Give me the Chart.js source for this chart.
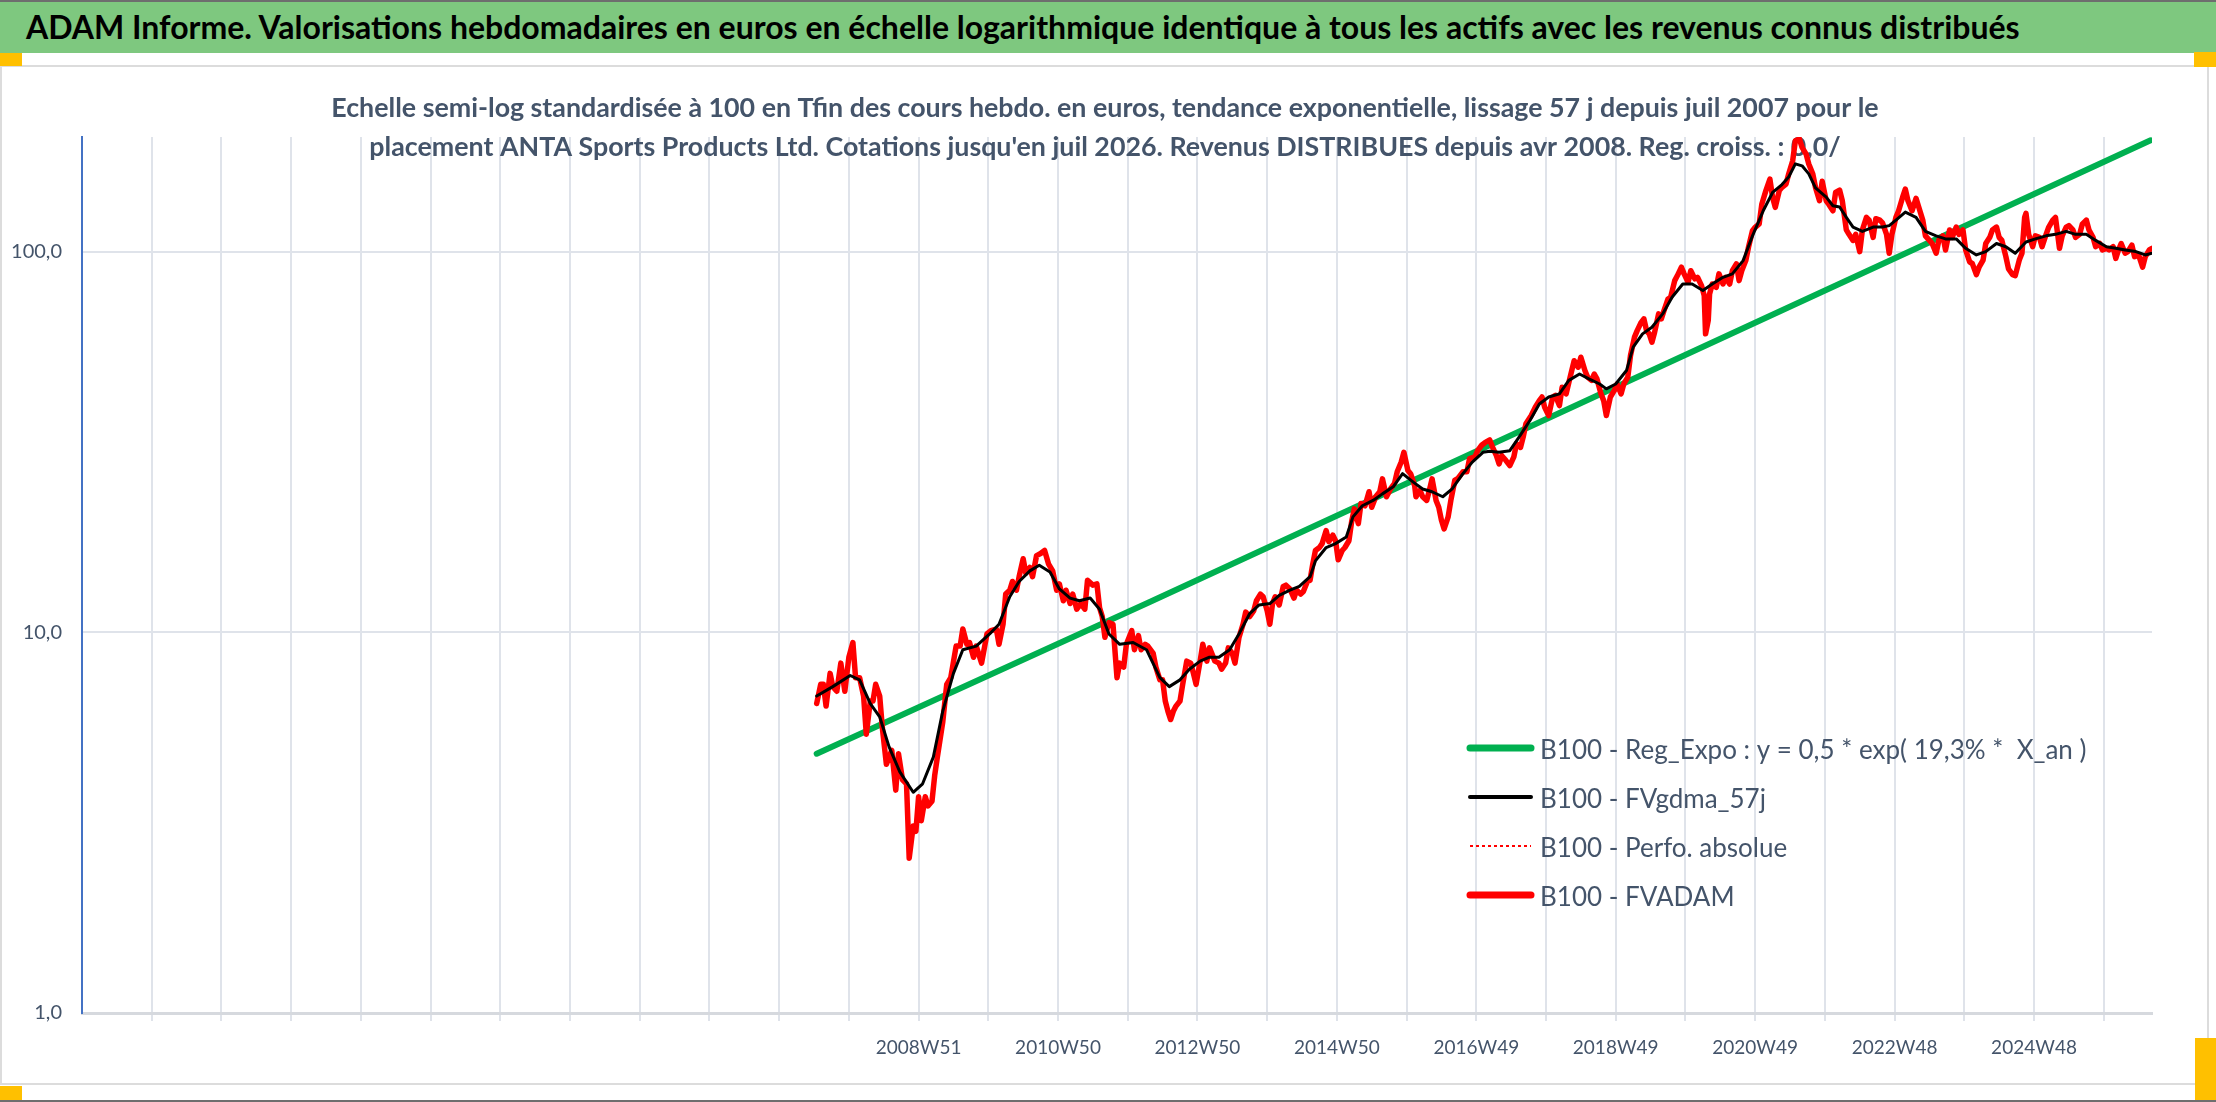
<!DOCTYPE html>
<html lang="fr">
<head>
<meta charset="utf-8">
<title>ADAM Informe - ANTA Sports Products Ltd.</title>
<script src="https://cdn.jsdelivr.net/npm/chart.js@4.4.1/dist/chart.umd.min.js"></script>
<style>
  html, body { margin: 0; padding: 0; background: #ffffff; overflow: hidden; }
  #page { position: relative; width: 2216px; height: 1102px; }
  #graphique { position: absolute; left: 0; top: 0; }
  #bandeau {
    position: absolute; left: 0; top: 0; width: 2216px; height: 53px;
    background: #7ec87f; border-top: 2px solid #6e6e6e;
    font: bold 32px Lato, "Liberation Sans", sans-serif; color: #000;
    line-height: 49px; padding-left: 26px; box-sizing: border-box; white-space: nowrap;
  }
  #cadre {
    position: absolute; left: 0; top: 65px; width: 2209px; height: 1020px;
    border: 2px solid #dcdcdc; box-sizing: border-box; pointer-events: none;
  }
  .poignee { position: absolute; background: #ffc000; }
  #basPage { position: absolute; left: 0; top: 1100px; width: 2216px; height: 2px; background: #6e6e6e; }
</style>
</head>
<body>
<div id="page">
  <canvas id="graphique" width="2216" height="1102"></canvas>
  <div id="cadre"></div>
  <div id="bandeau">ADAM Informe. Valorisations hebdomadaires en euros en échelle logarithmique identique à tous les actifs avec les revenus connus distribués</div>
  <div class="poignee" style="left:0;top:53px;width:22px;height:13px"></div>
  <div class="poignee" style="left:2194px;top:52px;width:22px;height:15px"></div>
  <div class="poignee" style="left:0;top:1086px;width:22px;height:14px"></div>
  <div class="poignee" style="left:2195px;top:1038px;width:21px;height:62px"></div>
  <div id="basPage"></div>
</div>
<script>
// Axe des x : index de semaine sur l'axe des catégories (graduation toutes les 52 semaines)
const finAxe = 1544;
const pasGraduation = 52;
const positionsEtiquettes = [624, 728, 832, 936, 1040, 1144, 1248, 1352, 1456];
const etiquettesX = ['2008W51', '2010W50', '2012W50', '2014W50', '2016W49', '2018W49', '2020W49', '2022W48', '2024W48'];
const valeursY = [1, 10, 100];

const titre1 = "Echelle semi-log standardisée à 100 en Tfin des cours hebdo. en euros, tendance exponentielle, lissage 57 j depuis juil 2007 pour le";
const titre2 = "placement ANTA Sports Products Ltd. Cotations jusqu'en juil 2026. Revenus DISTRIBUES depuis avr 2008. Reg. croiss. : 0,0/";

// [semaine, valeur base 100]
const regExpo = [[548, 4.8], [796, 12.0], [1543, 196]];

const fvGdma = [
  [548,6.8],[560,7.2],[573,7.7],[580,7.5],[588,6.5],[595,6.0],[602,5.0],[610,4.3],[620,3.8],[627,4.0],
  [635,4.7],[642,6.2],[650,7.8],[657,9.0],[667,9.2],[677,9.9],[684,10.5],[692,12.4],[699,13.6],[707,14.5],
  [714,15.0],[722,14.4],[729,13.0],[737,12.3],[744,12.1],[752,12.3],[759,11.5],[766,9.9],[774,9.3],[784,9.4],
  [794,9.0],[804,7.6],[811,7.2],[819,7.5],[826,8.0],[834,8.4],[841,8.6],[848,8.6],[856,9.0],[863,9.9],
  [871,11.2],[878,11.8],[886,11.9],[893,12.5],[901,12.9],[908,13.2],[916,14.0],[920,15.4],[928,16.7],[935,17.1],
  [943,17.8],[948,20.1],[955,21.5],[963,22.2],[970,23.1],[978,24.1],[985,26.1],[993,24.8],[1000,23.8],[1007,23.4],
  [1015,22.7],[1022,23.8],[1030,26.1],[1037,28.0],[1045,29.7],[1050,29.9],[1057,29.7],[1065,30.0],[1072,32.6],[1080,36.0],
  [1087,39.8],[1094,41.5],[1102,42.3],[1109,45.9],[1117,47.7],[1124,46.3],[1132,44.9],[1137,43.6],[1144,44.9],[1152,48.7],
  [1157,56.1],[1164,60.8],[1171,63.3],[1179,68.6],[1186,75.9],[1194,82.2],[1201,82.2],[1209,79.0],[1216,82.2],[1224,85.6],
  [1231,87.4],[1239,94.7],[1246,110],[1254,128],[1261,143],[1268,150],[1273,157],[1278,170],[1283,168],[1288,160],
  [1293,147],[1301,139],[1306,132],[1311,131],[1316,123],[1321,116],[1328,113],[1336,116],[1343,116],[1348,117],
  [1353,121],[1360,127],[1368,123],[1375,113],[1383,110],[1390,108],[1398,108],[1405,102],[1413,98],[1420,100],
  [1428,105],[1435,103],[1442,99],[1450,106],[1457,108],[1465,110],[1472,111],[1480,113],[1487,111],[1495,111],
  [1502,107],[1510,103],[1517,102],[1524,101],[1532,100],[1539,98],[1544,99]
];

const fvAdam = [
  [548,6.5],[551,7.3],[553,7.3],[555,6.4],[558,7.8],[560,7.2],[563,7.0],[566,8.3],[569,7.0],[572,8.6],
  [575,9.4],[577,7.6],[580,7.6],[583,6.8],[585,5.4],[588,6.6],[590,6.6],[592,7.3],[595,6.8],[597,5.6],
  [600,4.5],[604,4.9],[607,3.85],[609,4.8],[612,4.1],[615,4.0],[617,2.55],[620,3.1],[622,3.0],[624,3.7],
  [626,3.2],[629,3.7],[631,3.5],[634,3.6],[636,4.2],[638,4.7],[642,5.8],[645,7.3],[648,7.6],[652,9.2],
  [655,9.2],[657,10.2],[660,9.3],[662,9.4],[665,8.6],[667,9.2],[671,8.3],[675,9.9],[678,10.1],[682,10.2],
  [684,9.3],[687,10.5],[689,12.6],[692,12.9],[694,13.6],[697,12.9],[699,14.0],[702,15.6],[704,14.3],[707,14.8],
  [709,14.0],[712,15.9],[715,16.1],[718,16.4],[721,15.1],[724,14.5],[727,12.9],[729,13.4],[732,12.1],[734,12.9],
  [737,11.9],[739,12.6],[742,11.5],[745,11.9],[748,11.5],[750,13.7],[754,13.3],[757,13.4],[759,11.6],[761,11.0],
  [763,9.7],[766,10.6],[769,10.5],[772,7.6],[774,8.3],[777,8.1],[779,9.3],[783,10.1],[785,9.0],[788,9.8],
  [790,9.0],[793,9.3],[795,9.2],[799,8.8],
  [801,8.1],[804,7.5],[806,7.5],[808,6.6],[810,6.2],[812,5.9],[814,6.2],[816,6.4],[819,6.6],[821,7.3],
  [824,8.4],[827,8.3],[829,7.8],[831,7.3],[834,8.4],[836,9.3],[839,8.4],[841,9.1],[845,8.4],[848,8.3],
  [850,8.0],[853,8.3],[855,9.1],[858,8.8],[860,8.3],[863,9.7],[866,10.5],[868,11.3],[871,11.0],[874,11.4],
  [876,12.1],[879,12.6],[881,12.4],[884,11.4],[886,10.5],[888,11.9],[890,12.4],[893,11.8],[896,13.2],[898,13.3],
  [901,13.0],[904,12.3],[906,12.9],[909,12.6],[911,12.8],[914,13.6],[916,13.7],[918,15.1],[920,16.4],[923,16.7],
  [925,17.1],[928,18.5],[930,17.3],[933,18.0],[935,17.4],[937,15.5],[940,16.4],[942,16.7],[945,17.4],[947,19.5],
  [949,21.1],[952,19.3],[954,21.8],[957,21.5],[960,23.4],[962,21.3],[965,22.7],[968,23.4],[970,25.3],[973,22.7],
  [976,23.8],[979,24.6],[981,26.4],[984,28.0],[986,29.7],[989,26.6],[991,26.1],[994,24.3],[995,22.7],[998,23.6],
  [1000,22.7],[1003,22.2],[1005,23.6],[1007,25.3],[1010,22.2],[1012,21.3],[1014,19.7],[1016,18.7],[1019,20.1],[1021,22.2],
  [1024,25.1],[1026,25.3],[1030,26.4],[1033,26.4],[1035,28.6],[1039,28.9],[1041,30.0],[1044,31.0],[1047,31.6],[1050,32.0],
  [1052,30.7],[1055,29.1],[1057,27.7],
  [1059,29.1],[1062,28.3],[1065,27.4],[1068,28.9],[1070,31.3],[1073,30.6],[1075,32.6],[1077,35.3],[1081,37.1],[1084,39.0],
  [1087,40.6],[1089,41.5],[1091,39.0],[1094,37.1],[1097,41.5],[1099,41.9],[1102,39.4],[1104,44.0],[1107,42.3],[1110,46.8],
  [1113,51.7],[1116,49.7],[1118,52.8],[1121,48.7],[1123,46.8],[1126,45.9],[1128,47.7],[1130,46.3],[1133,42.3],[1135,40.6],
  [1137,37.1],[1140,41.5],[1143,43.2],[1145,44.9],[1148,42.3],[1150,44.9],[1153,46.8],[1155,53.3],[1158,59.6],[1160,62.0],
  [1163,65.2],[1165,66.6],[1167,62.0],[1169,60.8],[1171,57.8],[1173,61.4],[1176,68.6],[1178,66.6],[1180,70.0],[1183,75.1],
  [1185,75.9],[1188,83.9],[1190,86.5],[1193,91.0],[1195,87.4],[1198,83.1],[1200,89.1],[1203,84.8],[1205,85.6],[1208,81.4],
  [1210,76.7],
  [1211,60.8],[1213,65.9],[1214,77.4],[1216,82.2],[1219,80.6],[1221,87.4],[1224,82.2],[1226,85.6],[1229,82.2],[1231,89.1],
  [1234,92.8],[1236,83.9],[1238,89.1],[1241,94.7],[1243,102.6],[1246,113.5],[1248,115.8],[1251,118.2],[1253,133.4],[1256,144.6],
  [1259,155.1],[1261,138.9],[1263,130.7],[1266,144.6],[1268,147.5],[1271,150.5],[1273,159.9],[1276,173.3],[1278,195.6],[1281,197.6],
  [1283,187.8],[1286,180.4],[1288,169.9],[1291,159.9],[1293,147.5],[1296,136.1],
  [1298,153],[1301,136],[1303,133],[1306,128],[1308,143],[1311,145],[1313,136],[1316,114],[1318,111],[1321,107],
  [1323,111],[1326,100],[1328,114],[1331,123],[1333,121],[1336,109],[1338,122],[1341,121],[1343,119],[1346,111],
  [1348,99],[1350,111],[1353,123],[1355,128],[1358,139],[1360,146],[1362,136],[1365,128],[1368,138],[1370,131],
  [1373,121],[1375,110],[1378,107],[1380,105],[1383,99],[1385,107],[1388,110],[1390,101],[1393,114],[1395,109],
  [1398,116],[1400,111],[1403,114],[1405,101],[1408,94],[1410,93],[1413,87],[1415,91],[1418,95],[1420,105],
  [1423,109],[1425,114],[1428,116],[1430,109],[1432,107],[1435,97],[1437,90],[1440,87],[1442,86.5],[1445,95],
  [1447,99],[1449,123],[1450,126],[1452,111],[1455,103],[1457,110],[1460,109],[1462,103],[1465,111],[1467,116],
  [1470,121],[1472,123],[1475,102],[1477,110],[1480,116],[1482,117],[1485,114],[1487,109],[1490,111],[1492,118],
  [1495,121],[1497,114],[1500,109],[1502,103],[1505,105],[1507,101],[1510,102],[1512,101],[1515,103],[1517,96],
  [1519,101],[1521,105],[1524,99],[1526,100],[1529,104],[1531,97],[1534,98],[1537,91],[1539,97],[1542,101],
  [1544,102]
];

const POLICE = "Lato, 'Liberation Sans', sans-serif";
const COULEUR_TEXTE = '#44546a';
const COULEUR_GRILLE = '#dfe3ea';

const enPoints = (serie) => serie.map(([x, y]) => ({ x, y }));

// sous-titre dessiné derrière les courbes (il déborde sur la zone de tracé)
const sousTitre = {
    id: 'sousTitre',
    beforeDatasetsDraw(chart) {
        const ctx = chart.ctx;
        const cx = 1105;
        ctx.save();
        ctx.font = 'bold 26.8px ' + POLICE;
        ctx.fillStyle = COULEUR_TEXTE;
        ctx.textAlign = 'center';
        ctx.textBaseline = 'alphabetic';
        ctx.fillText(titre1, cx, 117);
        ctx.fillText(titre2, cx, 156);
        ctx.restore();
    }
};

// légende à l'intérieur de la zone de tracé, en bas à droite
const legendeInterne = {
    id: 'legendeInterne',
    afterDraw(chart) {
        const ctx = chart.ctx;
        chart.data.datasets.forEach((ds, i) => {
            const y = 748 + i * 49;
            ctx.save();
            ctx.strokeStyle = ds.borderColor;
            ctx.lineWidth = ds.largeurLegende;
            ctx.setLineDash(ds.borderDash || []);
            ctx.lineCap = ds.borderDash ? 'butt' : 'round';
            ctx.beginPath();
            ctx.moveTo(1470, y);
            ctx.lineTo(1531, y);
            ctx.stroke();
            ctx.fillStyle = COULEUR_TEXTE;
            ctx.font = '26px ' + POLICE;
            ctx.textBaseline = 'alphabetic';
            ctx.fillText(ds.label, 1540, y + 11);
            ctx.restore();
        });
    }
};

const graduationsX = [];
for (let s = pasGraduation; s < finAxe; s += pasGraduation) graduationsX.push(s);

Chart.defaults.font.family = POLICE;
Chart.defaults.color = COULEUR_TEXTE;

new Chart(document.getElementById('graphique'), {
    type: 'line',
    data: {
        datasets: [
            {
                label: 'B100 - Reg_Expo : y = 0,5 * exp( 19,3% *  X_an )',
                data: enPoints(regExpo),
                borderColor: '#00b050',
                borderWidth: 6,
                largeurLegende: 7,
                order: 3
            },
            {
                label: 'B100 - FVgdma_57j',
                data: enPoints(fvGdma),
                borderColor: '#000000',
                borderWidth: 3,
                largeurLegende: 4,
                order: 0
            },
            {
                label: 'B100 - Perfo. absolue',
                data: enPoints(fvAdam),
                borderColor: '#ff0000',
                borderWidth: 2,
                borderDash: [3, 3],
                largeurLegende: 2,
                order: 2
            },
            {
                label: 'B100 - FVADAM',
                data: enPoints(fvAdam),
                borderColor: '#ff0000',
                borderWidth: 5.5,
                largeurLegende: 7,
                order: 1
            }
        ]
    },
    options: {
        responsive: false,
        devicePixelRatio: 1,
        animation: false,
        events: [],
        layout: { padding: { top: 137, right: 64, bottom: 0, left: 0 } },
        elements: {
            point: { radius: 0 },
            line: { tension: 0, borderJoinStyle: 'round', borderCapStyle: 'round', fill: false }
        },
        plugins: {
            legend: { display: false },
            title: { display: false },
            tooltip: { enabled: false }
        },
        scales: {
            x: {
                type: 'linear',
                min: 0,
                max: finAxe,
                afterBuildTicks: (scale) => { scale.ticks = graduationsX.map(v => ({ value: v })); },
                afterFit: (scale) => { scale.height = 89; },
                ticks: {
                    autoSkip: false,
                    maxRotation: 0,
                    padding: 15,
                    font: { size: 19 },
                    callback: (v) => {
                        const i = positionsEtiquettes.indexOf(v);
                        return i >= 0 ? etiquettesX[i] : '';
                    }
                },
                grid: { color: COULEUR_GRILLE, lineWidth: 2, tickLength: 8 },
                border: { color: '#d6d9de', width: 3 }
            },
            y: {
                type: 'logarithmic',
                min: 1,
                max: 200,
                afterBuildTicks: (scale) => { scale.ticks = valeursY.map(v => ({ value: v })); },
                afterFit: (scale) => { scale.width = 82; },
                ticks: {
                    padding: 20,
                    font: { size: 20 },
                    callback: (v) => v.toFixed(1).replace('.', ',')
                },
                grid: { color: COULEUR_GRILLE, lineWidth: 2, drawTicks: false },
                border: { color: '#4472c4', width: 2 }
            }
        }
    },
    plugins: [sousTitre, legendeInterne]
});
</script>
</body>
</html>
